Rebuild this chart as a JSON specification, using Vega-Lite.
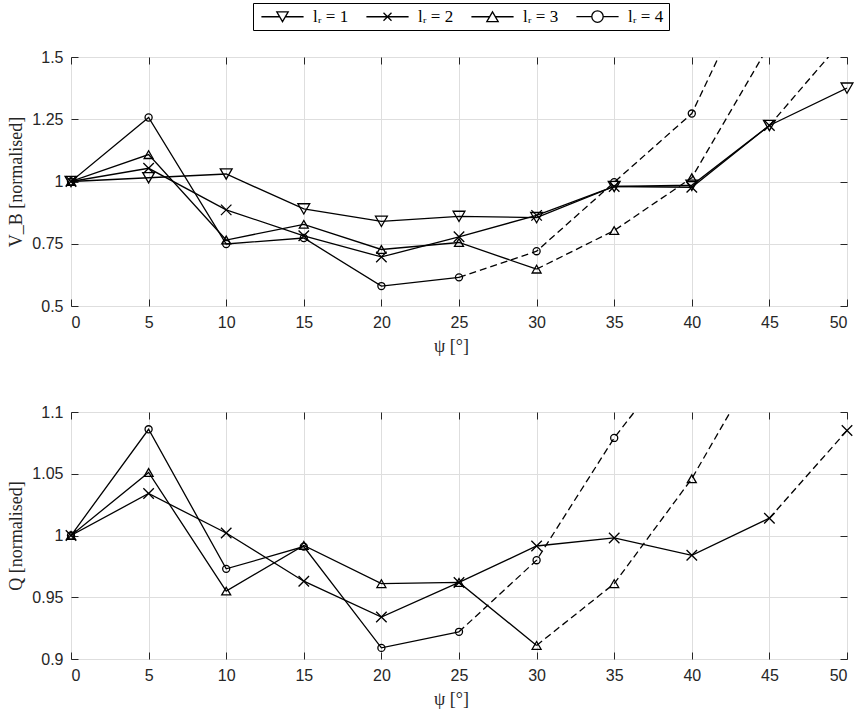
{
  "$schema": "https://vega.github.io/schema/vega-lite/v6.json",
  "autosize": {"type": "pad"},
  "padding": {"left": 7, "top": 2, "right": 5, "bottom": 5},
  "background": "white",
  "datasets": {
    "top": [
      {"s": "lᵣ = 1", "x": 0, "v": 1.0, "sol": 1, "das": 0, "mk": 1},
      {"s": "lᵣ = 1", "x": 5, "v": 1.015, "sol": 1, "das": 0, "mk": 1},
      {"s": "lᵣ = 1", "x": 10, "v": 1.03, "sol": 1, "das": 0, "mk": 1},
      {"s": "lᵣ = 1", "x": 15, "v": 0.89, "sol": 1, "das": 0, "mk": 1},
      {"s": "lᵣ = 1", "x": 20, "v": 0.84, "sol": 1, "das": 0, "mk": 1},
      {"s": "lᵣ = 1", "x": 25, "v": 0.86, "sol": 1, "das": 0, "mk": 1},
      {"s": "lᵣ = 1", "x": 30, "v": 0.855, "sol": 1, "das": 0, "mk": 1},
      {"s": "lᵣ = 1", "x": 35, "v": 0.98, "sol": 1, "das": 0, "mk": 1},
      {"s": "lᵣ = 1", "x": 40, "v": 0.985, "sol": 1, "das": 0, "mk": 1},
      {"s": "lᵣ = 1", "x": 45, "v": 1.225, "sol": 1, "das": 0, "mk": 1},
      {"s": "lᵣ = 1", "x": 50, "v": 1.375, "sol": 1, "das": 0, "mk": 1},
      {"s": "lᵣ = 2", "x": 0, "v": 1.0, "sol": 1, "das": 0, "mk": 1},
      {"s": "lᵣ = 2", "x": 5, "v": 1.053, "sol": 1, "das": 0, "mk": 1},
      {"s": "lᵣ = 2", "x": 10, "v": 0.886, "sol": 1, "das": 0, "mk": 1},
      {"s": "lᵣ = 2", "x": 15, "v": 0.782, "sol": 1, "das": 0, "mk": 1},
      {"s": "lᵣ = 2", "x": 20, "v": 0.697, "sol": 1, "das": 0, "mk": 1},
      {"s": "lᵣ = 2", "x": 25, "v": 0.778, "sol": 1, "das": 0, "mk": 1},
      {"s": "lᵣ = 2", "x": 30, "v": 0.864, "sol": 1, "das": 0, "mk": 1},
      {"s": "lᵣ = 2", "x": 35, "v": 0.98, "sol": 1, "das": 0, "mk": 1},
      {"s": "lᵣ = 2", "x": 40, "v": 0.977, "sol": 1, "das": 0, "mk": 1},
      {"s": "lᵣ = 2", "x": 45, "v": 1.225, "sol": 1, "das": 1, "mk": 1},
      {"s": "lᵣ = 2", "x": 50, "v": 1.587, "sol": 0, "das": 1, "mk": 0},
      {"s": "lᵣ = 3", "x": 0, "v": 1.0, "sol": 1, "das": 0, "mk": 1},
      {"s": "lᵣ = 3", "x": 5, "v": 1.108, "sol": 1, "das": 0, "mk": 1},
      {"s": "lᵣ = 3", "x": 10, "v": 0.765, "sol": 1, "das": 0, "mk": 1},
      {"s": "lᵣ = 3", "x": 15, "v": 0.828, "sol": 1, "das": 0, "mk": 1},
      {"s": "lᵣ = 3", "x": 20, "v": 0.727, "sol": 1, "das": 0, "mk": 1},
      {"s": "lᵣ = 3", "x": 25, "v": 0.755, "sol": 1, "das": 0, "mk": 1},
      {"s": "lᵣ = 3", "x": 30, "v": 0.648, "sol": 1, "das": 1, "mk": 1},
      {"s": "lᵣ = 3", "x": 35, "v": 0.803, "sol": 0, "das": 1, "mk": 1},
      {"s": "lᵣ = 3", "x": 40, "v": 1.015, "sol": 0, "das": 1, "mk": 1},
      {"s": "lᵣ = 3", "x": 45, "v": 1.55, "sol": 0, "das": 1, "mk": 0},
      {"s": "lᵣ = 4", "x": 0, "v": 1.0, "sol": 1, "das": 0, "mk": 1},
      {"s": "lᵣ = 4", "x": 5, "v": 1.257, "sol": 1, "das": 0, "mk": 1},
      {"s": "lᵣ = 4", "x": 10, "v": 0.749, "sol": 1, "das": 0, "mk": 1},
      {"s": "lᵣ = 4", "x": 15, "v": 0.773, "sol": 1, "das": 0, "mk": 1},
      {"s": "lᵣ = 4", "x": 20, "v": 0.58, "sol": 1, "das": 0, "mk": 1},
      {"s": "lᵣ = 4", "x": 25, "v": 0.615, "sol": 1, "das": 1, "mk": 1},
      {"s": "lᵣ = 4", "x": 30, "v": 0.72, "sol": 0, "das": 1, "mk": 1},
      {"s": "lᵣ = 4", "x": 35, "v": 0.997, "sol": 0, "das": 1, "mk": 1},
      {"s": "lᵣ = 4", "x": 40, "v": 1.273, "sol": 0, "das": 1, "mk": 1},
      {"s": "lᵣ = 4", "x": 45, "v": 1.93, "sol": 0, "das": 1, "mk": 0}
    ],
    "bottom": [
      {"s": "lᵣ = 2", "x": 0, "v": 1.0, "sol": 1, "das": 0, "mk": 1},
      {"s": "lᵣ = 2", "x": 5, "v": 1.034, "sol": 1, "das": 0, "mk": 1},
      {"s": "lᵣ = 2", "x": 10, "v": 1.002, "sol": 1, "das": 0, "mk": 1},
      {"s": "lᵣ = 2", "x": 15, "v": 0.963, "sol": 1, "das": 0, "mk": 1},
      {"s": "lᵣ = 2", "x": 20, "v": 0.934, "sol": 1, "das": 0, "mk": 1},
      {"s": "lᵣ = 2", "x": 25, "v": 0.962, "sol": 1, "das": 0, "mk": 1},
      {"s": "lᵣ = 2", "x": 30, "v": 0.9915, "sol": 1, "das": 0, "mk": 1},
      {"s": "lᵣ = 2", "x": 35, "v": 0.998, "sol": 1, "das": 0, "mk": 1},
      {"s": "lᵣ = 2", "x": 40, "v": 0.984, "sol": 1, "das": 0, "mk": 1},
      {"s": "lᵣ = 2", "x": 45, "v": 1.014, "sol": 1, "das": 1, "mk": 1},
      {"s": "lᵣ = 2", "x": 50, "v": 1.085, "sol": 0, "das": 1, "mk": 1},
      {"s": "lᵣ = 3", "x": 0, "v": 1.0, "sol": 1, "das": 0, "mk": 1},
      {"s": "lᵣ = 3", "x": 5, "v": 1.051, "sol": 1, "das": 0, "mk": 1},
      {"s": "lᵣ = 3", "x": 10, "v": 0.955, "sol": 1, "das": 0, "mk": 1},
      {"s": "lᵣ = 3", "x": 15, "v": 0.992, "sol": 1, "das": 0, "mk": 1},
      {"s": "lᵣ = 3", "x": 20, "v": 0.961, "sol": 1, "das": 0, "mk": 1},
      {"s": "lᵣ = 3", "x": 25, "v": 0.962, "sol": 1, "das": 0, "mk": 1},
      {"s": "lᵣ = 3", "x": 30, "v": 0.911, "sol": 1, "das": 1, "mk": 1},
      {"s": "lᵣ = 3", "x": 35, "v": 0.961, "sol": 0, "das": 1, "mk": 1},
      {"s": "lᵣ = 3", "x": 40, "v": 1.046, "sol": 0, "das": 1, "mk": 1},
      {"s": "lᵣ = 3", "x": 45, "v": 1.155, "sol": 0, "das": 1, "mk": 0},
      {"s": "lᵣ = 4", "x": 0, "v": 1.0, "sol": 1, "das": 0, "mk": 1},
      {"s": "lᵣ = 4", "x": 5, "v": 1.086, "sol": 1, "das": 0, "mk": 1},
      {"s": "lᵣ = 4", "x": 10, "v": 0.973, "sol": 1, "das": 0, "mk": 1},
      {"s": "lᵣ = 4", "x": 15, "v": 0.991, "sol": 1, "das": 0, "mk": 1},
      {"s": "lᵣ = 4", "x": 20, "v": 0.909, "sol": 1, "das": 0, "mk": 1},
      {"s": "lᵣ = 4", "x": 25, "v": 0.922, "sol": 1, "das": 1, "mk": 1},
      {"s": "lᵣ = 4", "x": 30, "v": 0.98, "sol": 0, "das": 1, "mk": 1},
      {"s": "lᵣ = 4", "x": 35, "v": 1.079, "sol": 0, "das": 1, "mk": 1},
      {"s": "lᵣ = 4", "x": 40, "v": 1.16, "sol": 0, "das": 1, "mk": 0}
    ]
  },
  "vconcat": [
    {
      "width": 776,
      "height": 249,
      "data": {"name": "top"},
      "layer": [
        {
          "transform": [{"filter": "datum.sol == 1"}],
          "mark": {"type": "line", "color": "black", "strokeWidth": 1.3, "clip": true},
          "encoding": {
            "x": {"field": "x", "type": "quantitative", "scale": {"domain": [0, 50], "nice": false, "zero": false},
              "axis": {"orient": "bottom", "values": [0,5,10,15,20,25,30,35,40,45,50], "format": "d", "ticks": false, "grid": true, "labelPadding": 8, "title": "ψ [°]", "titlePadding": 7, "titleX": 380}},
            "y": {"field": "v", "type": "quantitative", "scale": {"domain": [0.5, 1.5], "nice": false, "zero": false},
              "axis": {"orient": "left", "values": [0.5, 0.75, 1, 1.25, 1.5], "format": ".3~g", "ticks": false, "grid": true, "labelPadding": 8, "title": "V_B [normalised]", "titlePadding": 6}},
            "detail": {"field": "s"}
          }
        },
        {
          "transform": [{"filter": "datum.das == 1"}],
          "mark": {"type": "line", "color": "black", "strokeWidth": 1.3, "strokeDash": [7, 4], "clip": true},
          "encoding": {
            "x": {"field": "x", "type": "quantitative", "scale": {"domain": [0, 50], "nice": false, "zero": false},
              "axis": {"orient": "bottom", "values": [0,5,10,15,20,25,30,35,40,45,50], "labels": false, "grid": false, "ticks": true, "tickSize": -7, "title": null}},
            "y": {"field": "v", "type": "quantitative", "scale": {"domain": [0.5, 1.5], "nice": false, "zero": false},
              "axis": {"orient": "left", "values": [0.5, 0.75, 1, 1.25, 1.5], "labels": false, "grid": false, "ticks": true, "tickSize": -7, "title": null}},
            "detail": {"field": "s"}
          }
        },
        {
          "transform": [{"filter": "datum.mk == 1"}],
          "mark": {"type": "point", "filled": false, "color": "black", "strokeWidth": 1.3, "opacity": 1},
          "encoding": {
            "x": {"field": "x", "type": "quantitative", "scale": {"domain": [0, 50], "nice": false, "zero": false},
              "axis": {"orient": "top", "values": [0,5,10,15,20,25,30,35,40,45,50], "labels": false, "grid": false, "ticks": true, "tickSize": -7, "title": null}},
            "y": {"field": "v", "type": "quantitative", "scale": {"domain": [0.5, 1.5], "nice": false, "zero": false},
              "axis": {"orient": "right", "values": [0.5, 0.75, 1, 1.25, 1.5], "labels": false, "grid": false, "ticks": true, "tickSize": -7, "title": null}},
            "shape": {"field": "s", "type": "nominal", "scale": {"domain": ["lᵣ = 1", "lᵣ = 2", "lᵣ = 3", "lᵣ = 4"], "range": ["triangle-down", "M-1,-1L1,1M-1,1L1,-1", "triangle-up", "circle"]}, "legend": null},
            "size": {"field": "s", "type": "nominal", "scale": {"domain": ["lᵣ = 1", "lᵣ = 2", "lᵣ = 3", "lᵣ = 4"], "range": [140, 50, 140, 145]}, "legend": null}
          }
        },
        {
          "transform": [{"filter": "datum.mk == 1"}],
          "mark": {"type": "point", "filled": false, "color": "black", "opacity": 0},
          "encoding": {
            "x": {"field": "x", "type": "quantitative", "scale": {"domain": [0, 50], "nice": false, "zero": false}, "axis": null},
            "y": {"field": "v", "type": "quantitative", "scale": {"domain": [0.5, 1.5], "nice": false, "zero": false}, "axis": null},
            "shape": {"field": "s", "type": "nominal",
              "scale": {"domain": ["lᵣ = 1", "lᵣ = 2", "lᵣ = 3", "lᵣ = 4"],
                "range": [
                  "M-3.7,0L-0.5,0M0.5,0L3.7,0M-1,-0.866L1,-0.866L0,0.866Z",
                  "M-3.7,0L3.7,0M-0.7,-0.7L0.7,0.7M-0.7,0.7L0.7,-0.7",
                  "M-3.7,0L-0.5,0M0.5,0L3.7,0M0,-0.866L1,0.866L-1,0.866Z",
                  "M-3.7,0L-1,0M1,0L3.7,0M1,0A1,1,0,1,1,-1,0A1,1,0,1,1,1,0Z"
                ]},
              "legend": {
                "orient": "none", "legendX": 182, "legendY": -54, "direction": "horizontal", "title": null,
                "strokeColor": "black", "fillColor": "white", "padding": 5,
                "symbolSize": 130, "symbolStrokeColor": "black", "symbolStrokeWidth": 1.3, "symbolFillColor": "transparent",
                "symbolOffset": 16, "labelOffset": 22, "labelFont": "Liberation Serif", "labelFontSize": 17, "labelColor": "black",
                "columnPadding": 14,
                "encode": {"symbols": {"update": {"opacity": {"value": 1}, "fill": {"value": "transparent"}, "stroke": {"value": "black"}, "strokeWidth": {"value": 1.3}}}}
              }
            }
          }
        }
      ],
      "resolve": {"scale": {"shape": "independent"}, "axis": {"x": "independent", "y": "independent"}}
    },
    {
      "width": 776,
      "height": 247,
      "data": {"name": "bottom"},
      "layer": [
        {
          "transform": [{"filter": "datum.sol == 1"}],
          "mark": {"type": "line", "color": "black", "strokeWidth": 1.3, "clip": true},
          "encoding": {
            "x": {"field": "x", "type": "quantitative", "scale": {"domain": [0, 50], "nice": false, "zero": false},
              "axis": {"orient": "bottom", "values": [0,5,10,15,20,25,30,35,40,45,50], "format": "d", "ticks": false, "grid": true, "labelPadding": 8, "title": "ψ [°]", "titlePadding": 7, "titleX": 380}},
            "y": {"field": "v", "type": "quantitative", "scale": {"domain": [0.9, 1.1], "nice": false, "zero": false},
              "axis": {"orient": "left", "values": [0.9, 0.95, 1, 1.05, 1.1], "format": ".3~g", "ticks": false, "grid": true, "labelPadding": 8, "title": "Q [normalised]", "titlePadding": 6}},
            "detail": {"field": "s"}
          }
        },
        {
          "transform": [{"filter": "datum.das == 1"}],
          "mark": {"type": "line", "color": "black", "strokeWidth": 1.3, "strokeDash": [7, 4], "clip": true},
          "encoding": {
            "x": {"field": "x", "type": "quantitative", "scale": {"domain": [0, 50], "nice": false, "zero": false},
              "axis": {"orient": "bottom", "values": [0,5,10,15,20,25,30,35,40,45,50], "labels": false, "grid": false, "ticks": true, "tickSize": -7, "title": null}},
            "y": {"field": "v", "type": "quantitative", "scale": {"domain": [0.9, 1.1], "nice": false, "zero": false},
              "axis": {"orient": "left", "values": [0.9, 0.95, 1, 1.05, 1.1], "labels": false, "grid": false, "ticks": true, "tickSize": -7, "title": null}},
            "detail": {"field": "s"}
          }
        },
        {
          "transform": [{"filter": "datum.mk == 1"}],
          "mark": {"type": "point", "filled": false, "color": "black", "strokeWidth": 1.3, "opacity": 1},
          "encoding": {
            "x": {"field": "x", "type": "quantitative", "scale": {"domain": [0, 50], "nice": false, "zero": false},
              "axis": {"orient": "top", "values": [0,5,10,15,20,25,30,35,40,45,50], "labels": false, "grid": false, "ticks": true, "tickSize": -7, "title": null}},
            "y": {"field": "v", "type": "quantitative", "scale": {"domain": [0.9, 1.1], "nice": false, "zero": false},
              "axis": {"orient": "right", "values": [0.9, 0.95, 1, 1.05, 1.1], "labels": false, "grid": false, "ticks": true, "tickSize": -7, "title": null}},
            "shape": {"field": "s", "type": "nominal", "scale": {"domain": ["lᵣ = 1", "lᵣ = 2", "lᵣ = 3", "lᵣ = 4"], "range": ["triangle-down", "M-1,-1L1,1M-1,1L1,-1", "triangle-up", "circle"]}, "legend": null},
            "size": {"field": "s", "type": "nominal", "scale": {"domain": ["lᵣ = 1", "lᵣ = 2", "lᵣ = 3", "lᵣ = 4"], "range": [140, 50, 140, 145]}, "legend": null}
          }
        }
      ],
      "resolve": {"axis": {"x": "independent", "y": "independent"}}
    }
  ],
  "spacing": 106,
  "bounds": "flush",
  "resolve": {"scale": {"shape": "independent", "size": "independent"}},
  "config": {
    "view": {"stroke": "#262626", "strokeWidth": 1},
    "axis": {
      "domain": false,
      "labelFont": "Liberation Sans", "labelFontSize": 16, "labelColor": "#262626",
      "titleFont": "Liberation Serif", "titleFontSize": 18, "titleFontWeight": "normal", "titleColor": "#262626",
      "gridColor": "#dedede", "gridWidth": 1, "tickColor": "#262626", "tickWidth": 1
    }
  }
}
